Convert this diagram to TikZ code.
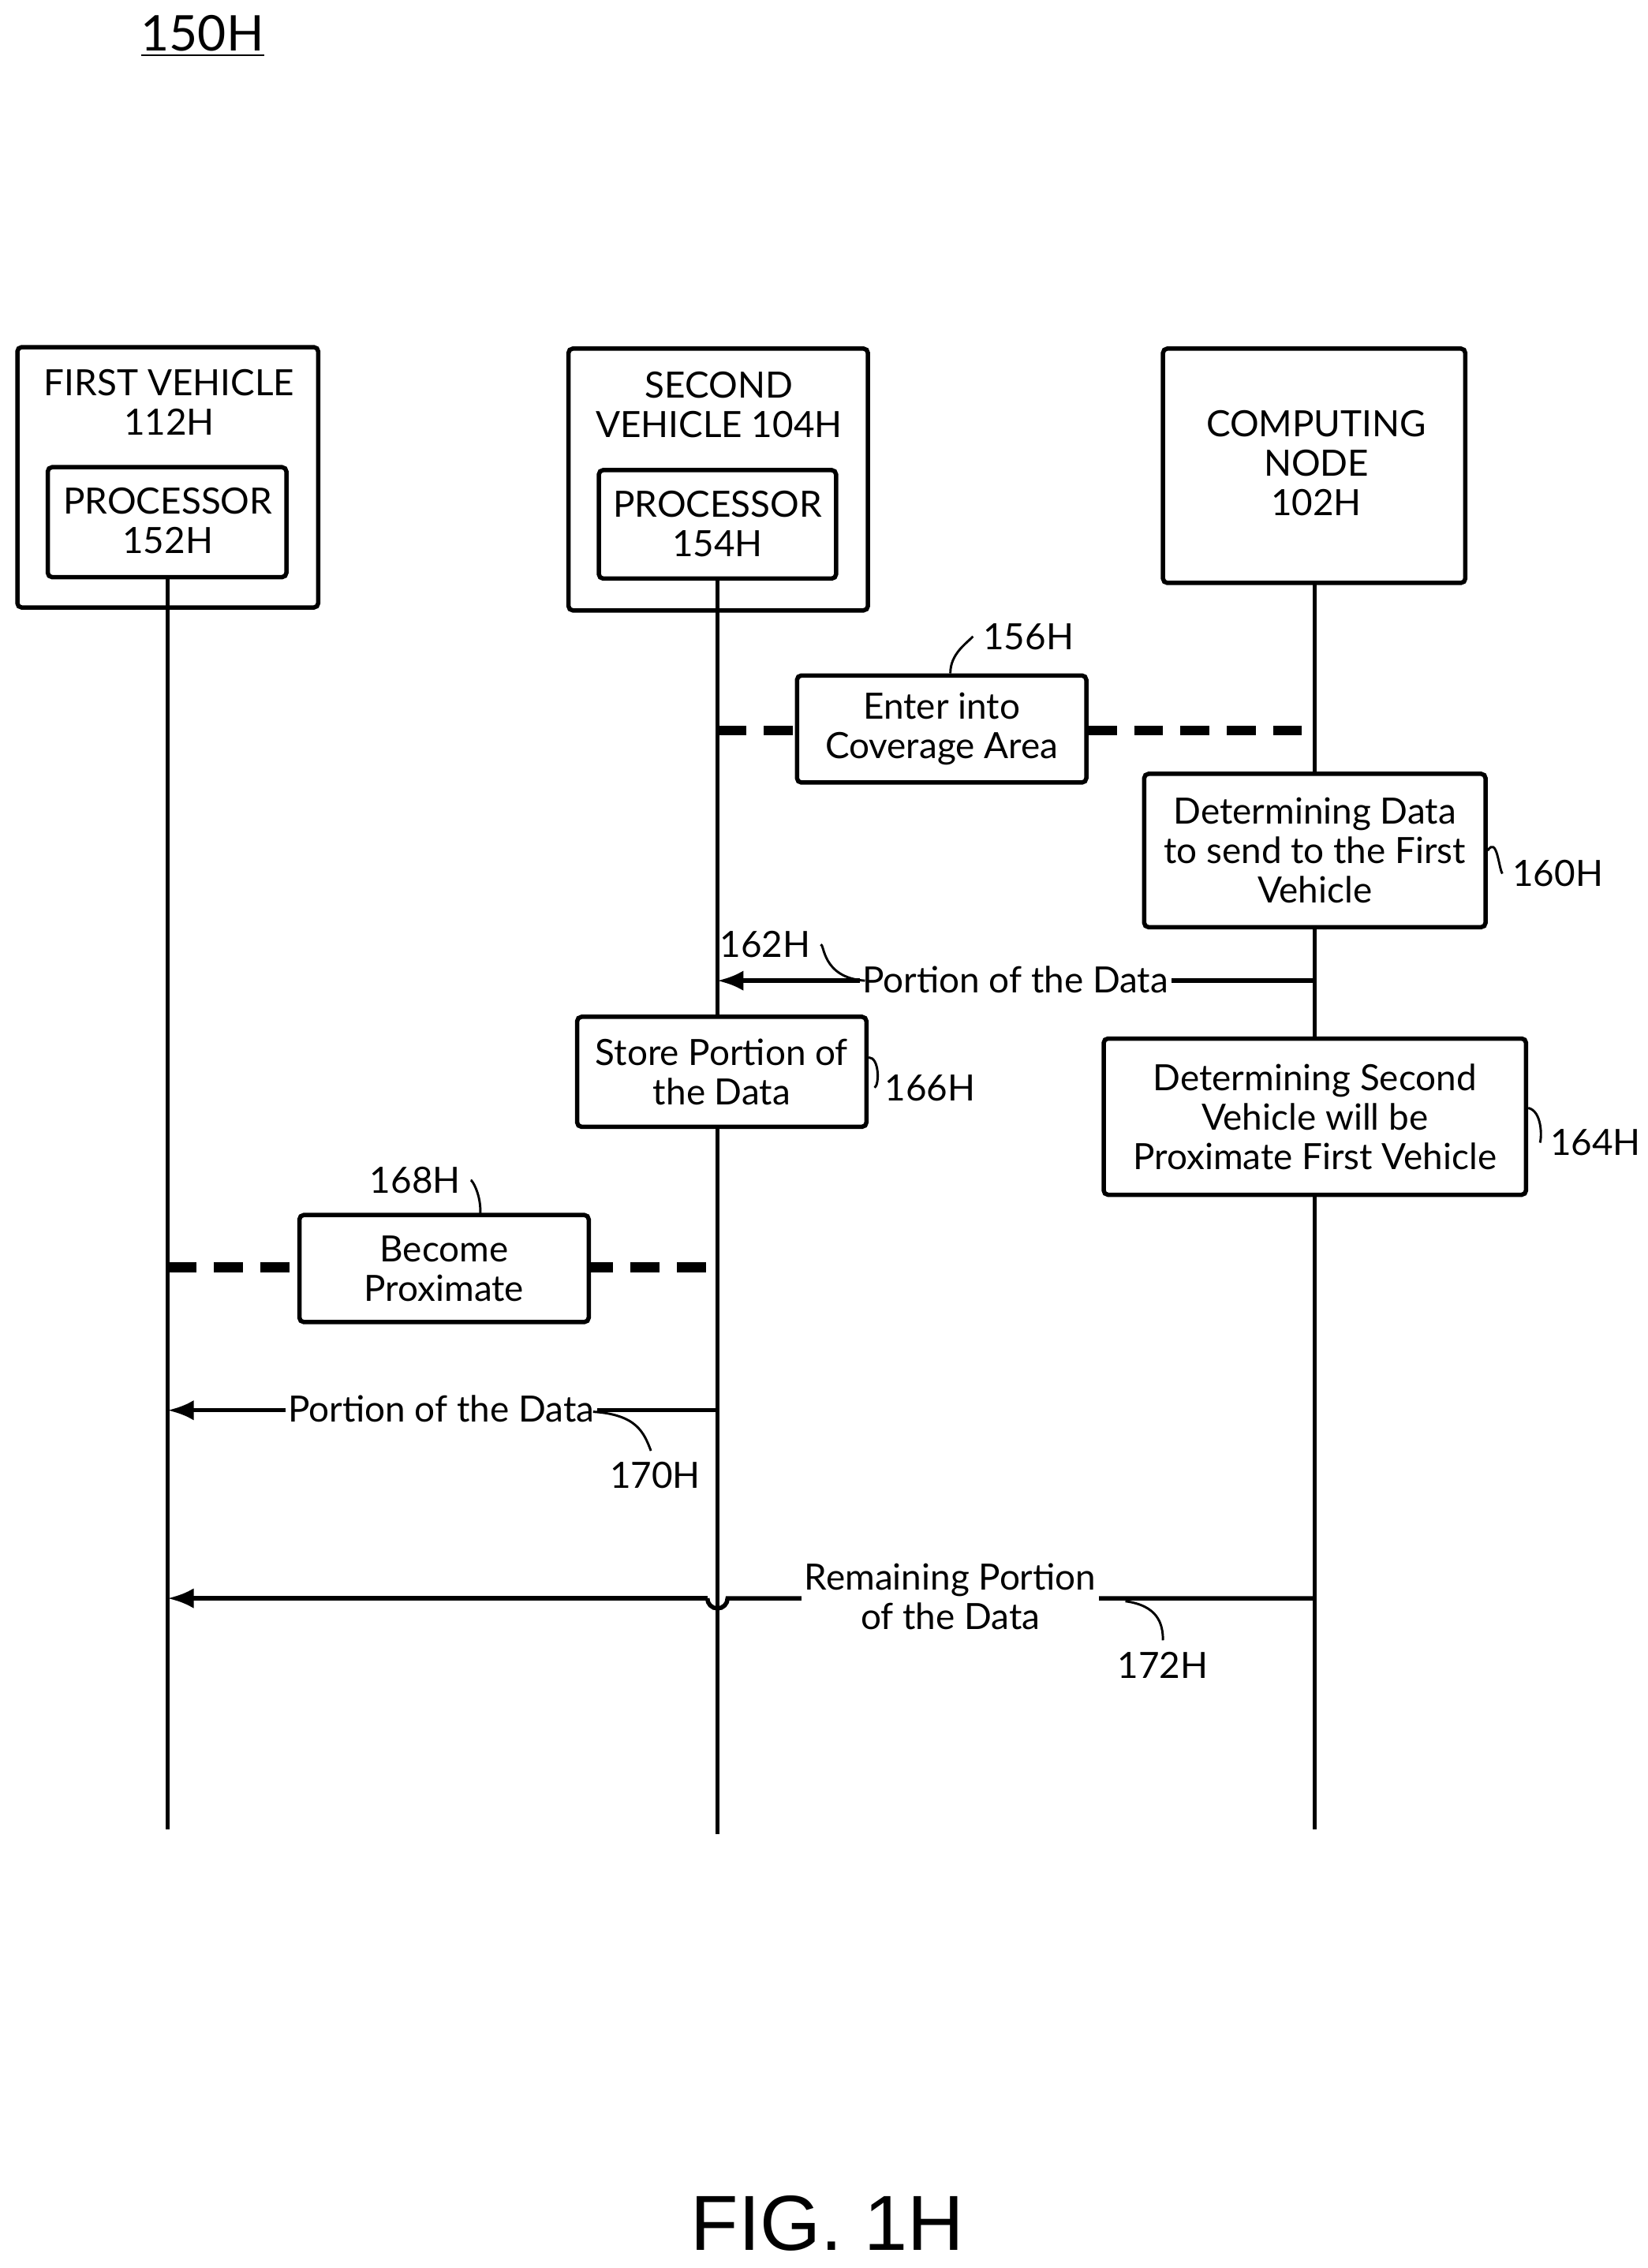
\documentclass[tikz,border=0pt]{standalone}
\usepackage{fontspec}
\setmainfont{Lato}
\newfontfamily\figfont{Liberation Sans}
\usetikzlibrary{arrows.meta}
\begin{document}
\begin{tikzpicture}[x=0.5pt,y=-0.5pt,
  box/.style={draw,line width=1.5pt,rounded corners=1.5pt,align=center,inner sep=0pt},
  txt/.style={font=\fontsize{12.5}{13.6}\selectfont,align=center},
  life/.style={line width=1.5pt},
  thickdash/.style={line width=3.5pt,dash pattern=on 10pt off 6pt},
  msg/.style={line width=1.5pt,-{Latex[length=9pt,width=7pt]}},
  lab/.style={font=\fontsize{12.5}{13.6}\selectfont,fill=white,inner sep=1pt},
  sq/.style={line width=0.8pt}]
\useasboundingbox (0,0) rectangle (1139,1568);
% title
\node[font=\fontsize{17}{19}\selectfont] (t) at (140,25) {\underline{150H}};
% boxes
\draw[box] (12,240) rectangle (220,420);
\node[txt] (fv) at (117,278) {FIRST VEHICLE\\112H};
\draw[box] (33,323) rectangle (198,399);
\node[txt] (p1) at (116,360) {PROCESSOR\\152H};
\draw[box] (393,241) rectangle (600,422);
\node[txt] (sv) at (497,280) {SECOND\\VEHICLE 104H};
\draw[box] (414,325) rectangle (578,400);
\node[txt] (p2) at (496,362) {PROCESSOR\\154H};
\draw[box] (804,241) rectangle (1013,403);
\node[txt] (cn) at (910,320) {COMPUTING\\NODE\\102H};
% lifelines
\coordinate (a1) at (116,399); \coordinate (a2) at (116,1265);
\coordinate (b1) at (496,400); \coordinate (b2) at (496,1268);
\coordinate (c1) at (909,403); \coordinate (c2) at (909,1265);
\draw[life] (a1)--(a2); \draw[life] (b1)--(b2); \draw[life] (c1)--(c2);
% 156H
\coordinate (d1) at (496,505); \coordinate (d2) at (909,505);
\draw[thickdash] (d1)--(d2);
\node[box,fill=white,txt,minimum width=100pt,minimum height=37pt] (e) at (651,504) {Enter into\\Coverage Area};
\node[txt] (l156) at (711,440) {156H};
\draw[sq] (e.north) ++(6,0) .. controls (657,452) and (668,445) .. (l156.west);
% 160H
\node[box,fill=white,txt,minimum width=118pt,minimum height=53pt] (dd) at (909,588) {Determining Data\\to send to the First\\Vehicle};
\node[txt] (l160) at (1077,604) {160H};
\draw[sq] (dd.east) .. controls (1035,578) and (1036,600) .. (l160.west);
% 162
\coordinate (m1s) at (909,678); \coordinate (m1e) at (496,678);
\draw[msg] (m1s)--(m1e);
\node[lab] (pd1) at (702,677) {Portion of the Data};
\node[txt] (l162) at (529,653) {162H};
\draw[sq] (l162.east) .. controls (570,652) and (568,676) .. (598,678);
% 166H
\node[box,fill=white,txt,minimum width=100pt,minimum height=38pt] (st) at (499,741) {Store Portion of\\the Data};
\node[txt] (l166) at (643,752) {166H};
\draw[sq] (st.east) ++(0,-10) .. controls (608,731) and (608,750) .. (l166.west);
% 164H
\node[box,fill=white,txt,minimum width=146pt,minimum height=54pt] (ds) at (909,772) {Determining Second\\Vehicle will be\\Proximate First Vehicle};
\node[txt] (l164) at (1103,790) {164H};
\draw[sq] (ds.east) ++(0,-6) .. controls (1066,768) and (1066,786) .. (l164.west);
% 168H
\coordinate (f1) at (116,876); \coordinate (f2) at (496,876);
\draw[thickdash] (f1)--(f2);
\node[box,fill=white,txt,minimum width=100pt,minimum height=37pt] (bp) at (307,877) {Become\\Proximate};
\node[txt] (l168) at (287,816) {168H};
\draw[sq] (l168.east) .. controls (326,815) and (333,826) .. (332,840);
% 170H
\coordinate (m2s) at (496,975); \coordinate (m2e) at (116,975);
\draw[msg] (m2s)--(m2e);
\node[lab] (pd2) at (305,974) {Portion of the Data};
\node[txt] (l170) at (453,1020) {170H};
\draw[sq] (410,976) .. controls (440,978) and (445,990) .. (450,1003);
% 172H
\coordinate (m3s) at (909,1105); \coordinate (j1) at (503,1105); \coordinate (j2) at (489,1105); \coordinate (m3e) at (116,1105);
\draw[line width=1.5pt] (m3s)--(j1) arc (0:180:7);
\draw[msg] (j2)--(m3e);
\node[lab,align=center,font=\fontsize{12.5}{13.6}\selectfont] (rp) at (657,1104) {Remaining Portion\\of the Data};
\node[txt] (l172) at (804,1151) {172H};
\draw[sq] (778,1107) .. controls (800,1110) and (804,1122) .. (804,1134);
% fig
\node[font=\figfont\fontsize{27}{30}\selectfont] (fig) at (572,1537) {FIG. 1H};
\end{tikzpicture}
\end{document}
